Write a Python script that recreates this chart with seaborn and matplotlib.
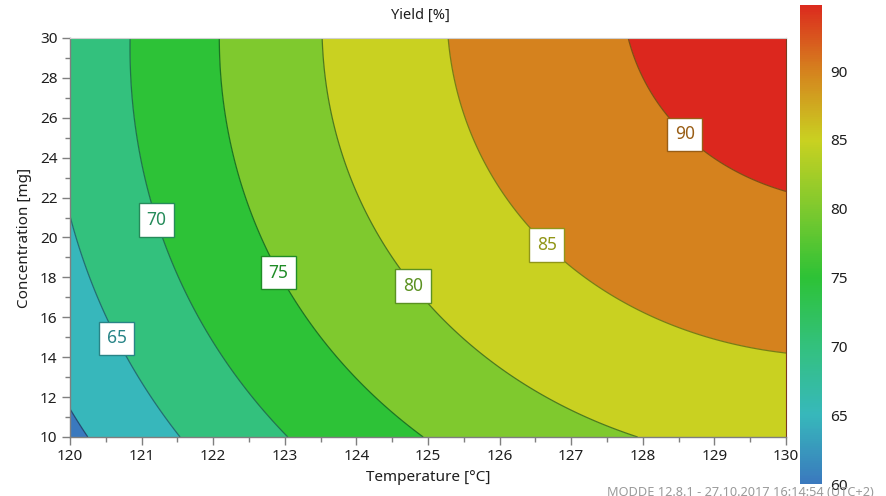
import numpy as np
import matplotlib
matplotlib.use("Agg")
import matplotlib.pyplot as plt
import matplotlib.colors as mcolors
from matplotlib.ticker import MultipleLocator
import seaborn as sns

# ---- data ----
TEMPERATURE = [120.0, 120.5, 121.0, 121.5, 122.0, 122.5, 123.0, 123.5, 124.0, 124.5,
               125.0, 125.5, 126.0, 126.5, 127.0, 127.5, 128.0, 128.5, 129.0, 129.5, 130.0]
CONCENTRATION = [10, 12, 14, 16, 18, 20, 22, 24, 26, 28, 30]
YIELD = [
    [59.0, 61.0, 63.0, 64.9, 66.6, 68.3, 69.9, 71.3, 72.7, 74.0, 75.2, 76.2, 77.2, 78.1, 78.8, 79.5, 80.1, 80.5, 80.9, 81.2, 81.4],
    [60.4, 62.5, 64.5, 66.4, 68.2, 69.8, 71.4, 72.9, 74.3, 75.6, 76.8, 77.9, 78.9, 79.8, 80.5, 81.2, 81.8, 82.3, 82.7, 83.0, 83.2],
    [61.7, 63.8, 65.8, 67.7, 69.5, 71.2, 72.8, 74.3, 75.8, 77.1, 78.3, 79.4, 80.4, 81.3, 82.1, 82.8, 83.4, 83.9, 84.3, 84.6, 84.8],
    [62.8, 65.0, 67.0, 68.9, 70.7, 72.5, 74.1, 75.6, 77.0, 78.4, 79.6, 80.7, 81.7, 82.7, 83.5, 84.2, 84.8, 85.3, 85.8, 86.1, 86.3],
    [63.8, 66.0, 68.0, 69.9, 71.8, 73.5, 75.2, 76.7, 78.2, 79.5, 80.7, 81.9, 82.9, 83.9, 84.7, 85.5, 86.1, 86.6, 87.1, 87.4, 87.7],
    [64.6, 66.8, 68.8, 70.8, 72.7, 74.4, 76.1, 77.6, 79.1, 80.5, 81.7, 82.9, 84.0, 84.9, 85.8, 86.5, 87.2, 87.8, 88.2, 88.6, 88.8],
    [65.3, 67.5, 69.5, 71.5, 73.4, 75.2, 76.8, 78.4, 79.9, 81.3, 82.6, 83.7, 84.8, 85.8, 86.7, 87.5, 88.1, 88.7, 89.2, 89.6, 89.9],
    [65.8, 68.0, 70.1, 72.1, 74.0, 75.7, 77.4, 79.0, 80.5, 81.9, 83.2, 84.4, 85.5, 86.5, 87.4, 88.2, 88.9, 89.5, 90.0, 90.4, 90.7],
    [66.1, 68.3, 70.4, 72.4, 74.4, 76.2, 77.9, 79.5, 81.0, 82.4, 83.7, 85.0, 86.1, 87.1, 88.0, 88.8, 89.5, 90.2, 90.7, 91.1, 91.4],
    [66.3, 68.5, 70.6, 72.7, 74.6, 76.4, 78.2, 79.8, 81.3, 82.8, 84.1, 85.3, 86.5, 87.5, 88.4, 89.3, 90.0, 90.6, 91.2, 91.6, 91.9],
    [66.3, 68.5, 70.7, 72.7, 74.7, 76.5, 78.3, 79.9, 81.5, 82.9, 84.3, 85.5, 86.7, 87.7, 88.7, 89.5, 90.3, 91.0, 91.5, 92.0, 92.3],
]
LEVELS = [60, 65, 70, 75, 80, 85, 90]
LABEL_LEVELS = [65, 70, 75, 80, 85, 90]
LABEL_T = [120.66, 121.22, 122.95, 124.83, 126.70, 128.63]
LABEL_C = [14.96, 20.88, 18.32, 17.67, 19.77, 25.34]

# colour scale (value -> colour), as on the colour bar
CBAR_VALUES = [60, 65, 70, 75, 80, 85, 90, 95]
CBAR_COLORS = ["#3a79be", "#37b8bb", "#33c17d", "#2dc236", "#7ec92e", "#c9d121", "#d5831e", "#dc271e"]
CBAR_TICKS = [60, 65, 70, 75, 80, 85, 90]

# ---- style ----
sns.set_theme(style="white")
plt.rcParams["font.family"] = ["Noto Sans", "DejaVu Sans"]
TXT = "#1e1e1e"
GRID = "#7f7f7f"

vmin, vmax = CBAR_VALUES[0], CBAR_VALUES[-1]
cmap = mcolors.LinearSegmentedColormap.from_list(
    "modde", [((v - vmin) / (vmax - vmin), c) for v, c in zip(CBAR_VALUES, CBAR_COLORS)])
norm = mcolors.Normalize(vmin, vmax)

T = np.array(TEMPERATURE)
Cc = np.array(CONCENTRATION)
Z = np.array(YIELD)

# response-surface (full quadratic) least-squares fit to the gridded readings,
# evaluated finely for smooth contours, as a response-surface contour plot does
TT, CCg = np.meshgrid(T, Cc)


def design(t, c):
    t = np.ravel(t) - 125.0
    c = np.ravel(c) - 20.0
    return np.column_stack([np.ones_like(t), t, c, t * t, c * c, t * c])


coef, *_ = np.linalg.lstsq(design(TT, CCg), Z.ravel(), rcond=None)
Tf, Cf = np.meshgrid(np.linspace(T.min(), T.max(), 301), np.linspace(Cc.min(), Cc.max(), 301))
Zf = (design(Tf, Cf) @ coef).reshape(Tf.shape)

fig = plt.figure(figsize=(8.87, 4.96), dpi=100)
ax = fig.add_axes([70 / 887, 1 - 437 / 496, 716 / 887, 399 / 496])

fill_levels = [float(Zf.min()) - 1] + LEVELS + [float(Zf.max()) + 1]
band_colors = [cmap(norm(v)) for v in CBAR_VALUES]
ax.contourf(Tf, Cf, Zf, levels=fill_levels, colors=band_colors, antialiased=True)


def dark(v, f):
    return tuple(np.array(mcolors.to_rgb(cmap(norm(v)))) * f)


unlabeled = [lv for lv in LEVELS if lv not in LABEL_LEVELS]
ax.contour(Tf, Cf, Zf, levels=unlabeled, colors=[dark(v, 0.6) for v in unlabeled], linewidths=0.9)
cs = ax.contour(Tf, Cf, Zf, levels=LABEL_LEVELS, colors=[dark(v, 0.6) for v in LABEL_LEVELS],
                linewidths=0.9)

texts = ax.clabel(cs, inline=False, fmt="%d", fontsize=12.5,
                  manual=list(zip(LABEL_T, LABEL_C)))
for t in texts:
    lev = float(t.get_text())
    col = dark(lev, 0.72)
    t.set_rotation(0)
    t.set_color(col)
    t.set_ha("center")
    t.set_va("center")
    t.set_zorder(5)
    t.set_bbox(dict(boxstyle="square,pad=0.45", fc="white", ec=col, lw=1.0))

ax.set_xlim(120, 130)
ax.set_ylim(10, 30)
ax.xaxis.set_major_locator(MultipleLocator(1))
ax.xaxis.set_minor_locator(MultipleLocator(0.5))
ax.yaxis.set_major_locator(MultipleLocator(2))
ax.yaxis.set_minor_locator(MultipleLocator(1))
ax.tick_params(which="major", direction="out", length=6, width=1, color=GRID,
               labelsize=11, labelcolor=TXT, bottom=True, left=True, pad=3)
ax.tick_params(which="minor", direction="out", length=3.5, width=1, color=GRID,
               bottom=True, left=True)
for s in ["left", "bottom"]:
    ax.spines[s].set_color(GRID)
    ax.spines[s].set_linewidth(1)
ax.spines["top"].set_color("#d0d0d0")
ax.spines["top"].set_linewidth(0.8)
ax.spines["right"].set_color("#7a3a20")
ax.spines["right"].set_linewidth(0.8)

ax.set_xlabel("Temperature [°C]", fontsize=11, color=TXT, labelpad=4)
ax.set_ylabel("Concentration [mg]", fontsize=11, color=TXT, labelpad=6)
fig.text(0.474, 1 - 15 / 496, "Yield [%]", ha="center", va="center", fontsize=10.5, color=TXT)

# colour bar
cax = fig.add_axes([800 / 887, 1 - 484 / 496, 22 / 887, 479 / 496])
sm = plt.cm.ScalarMappable(norm=norm, cmap=cmap)
cb = fig.colorbar(sm, cax=cax, ticks=CBAR_TICKS)
cb.outline.set_visible(False)
cax.set_ylim(vmin, 94.8)
cax.tick_params(length=0, labelsize=11, labelcolor=TXT, pad=6)

fig.text(607 / 887, 1 - 486 / 496, "MODDE 12.8.1 - 27.10.2017 16:14:54 (UTC+2)",
         ha="left", va="top", fontsize=9.2, color="#9a9a9a", zorder=0)

fig.savefig("out.png", dpi=100)
